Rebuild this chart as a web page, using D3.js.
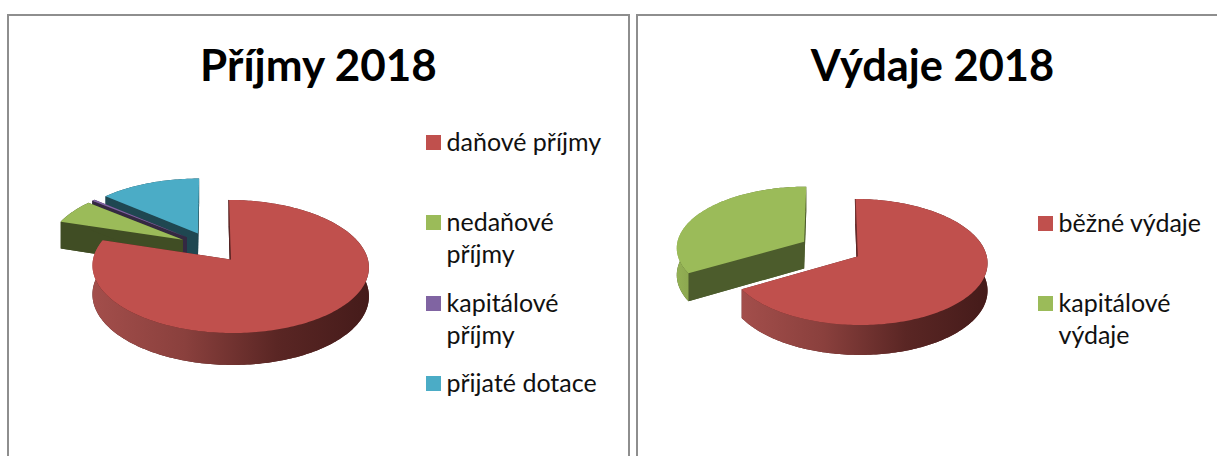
<!DOCTYPE html>
<html>
<head>
<meta charset="utf-8">
<script src="https://d3js.org/d3.v7.min.js"></script>
<style>
  html, body { margin: 0; padding: 0; background: #fff; }
  svg { display: block; }
  text { font-family: Lato, "Open Sans", sans-serif; }
</style>
</head>
<body>
<div id="chart"></div>
<script>
var incomeLabels = [['daňové příjmy'], ['nedaňové', 'příjmy'], ['kapitálové', 'příjmy'], ['přijaté dotace']]
var incomeValues = [79.9, 6.1, 0.4, 13.6]
var incomeColors = ['#C0504D', '#9BBB59', '#8064A2', '#4BACC6']

var expenseLabels = [['běžné výdaje'], ['kapitálové', 'výdaje']]
var expenseValues = [66.6, 33.4]
var expenseColors = ['#C0504D', '#9BBB59']

var W = 1217, H = 456
var svg = d3.select('#chart').append('svg').attr('width', W).attr('height', H)
var defs = svg.append('defs')
var gradId = 0

function panel(x, y, w, h) {
  svg.append('path')
    .attr('d', 'M' + x + ',' + (y + h) + 'V' + y + 'H' + (x + w) + 'V' + (y + h))
    .attr('fill', 'none').attr('stroke', '#8e8e8e').attr('stroke-width', 2)
}

function title(text, x, size) {
  svg.append('text').attr('x', x).attr('y', 81)
    .attr('text-anchor', 'middle').attr('font-size', size).attr('font-weight', 700)
    .attr('fill', '#000').text(text)
}

// swatches and wrapped labels; rows holds the top of each swatch
function legend(labels, colors, x, rows) {
  labels.forEach(function (lines, i) {
    svg.append('rect').attr('x', x).attr('y', rows[i]).attr('width', 15).attr('height', 15)
      .attr('fill', colors[i])
    lines.forEach(function (line, j) {
      svg.append('text').attr('x', x + 20.5).attr('y', rows[i] + 16 + j * 32)
        .attr('font-size', 25).attr('fill', '#111').text(line)
    })
  })
}

// tilted pie: every slice is moved out in the disc plane, then projected
function pie3d(values, colors, cfg) {
  var arcs = d3.pie().sort(null).value(function (d) { return d })(values)
  var line = d3.line()

  function project(u, v, low) {
    var w = 1 - cfg.k * v
    return [cfg.cx + cfg.rx * u / w, cfg.cy + (cfg.ry * v + (low ? cfg.h : 0)) / w]
  }

  arcs.forEach(function (a) { a.color = colors[a.index] })

  cfg.order.forEach(function (idx) {
    var a = arcs[idx]
    var mid = (a.startAngle + a.endAngle) / 2
    var ox = cfg.explode * Math.sin(mid), oy = -cfg.explode * Math.cos(mid)
    var steps = Math.max(2, Math.ceil((a.endAngle - a.startAngle) / 0.02))
    var angles = d3.range(steps + 1).map(function (i) {
      return a.startAngle + (a.endAngle - a.startAngle) * i / steps
    })
    var rim = function (low) {
      return angles.map(function (t) { return project(ox + Math.sin(t), oy - Math.cos(t), low) })
    }
    var apex = project(ox, oy, false), apexLow = project(ox, oy, true)
    var top = rim(false), bottom = rim(true)
    var base = d3.color(a.color)
    var dark = base.darker(cfg.wallDark).formatHex()
    var g = svg.append('g')

    // bottom and cut faces first, the top face covers whatever is behind it
    g.append('path').attr('d', line([apexLow].concat(bottom)) + 'Z').attr('fill', dark)
    g.append('path').attr('d', line([apex, top[0], bottom[0], apexLow]) + 'Z').attr('fill', dark)
    g.append('path').attr('d', line([apex, top[steps], bottom[steps], apexLow]) + 'Z').attr('fill', dark)

    var xs = top.map(function (p) { return p[0] })
    var id = 'wall' + (gradId++)
    var grad = defs.append('linearGradient').attr('id', id).attr('gradientUnits', 'userSpaceOnUse')
      .attr('x1', d3.min(xs)).attr('x2', d3.max(xs)).attr('y1', 0).attr('y2', 0)
    var stops = cfg.wall[idx] || [dark, dark]
    stops.forEach(function (c, i) {
      grad.append('stop').attr('offset', i / (stops.length - 1)).attr('stop-color', c)
    })
    g.append('path').attr('d', line(top.concat(bottom.slice().reverse())) + 'Z').attr('fill', 'url(#' + id + ')')

    g.append('path').attr('d', line([apex].concat(top)) + 'Z').attr('fill', a.color)
    // thin dark sliver of the cut face along the slice start
    if (idx === 0) {
      g.append('path').attr('d', line([apex, top[0]])).attr('fill', 'none')
        .attr('stroke', dark).attr('stroke-width', 0.8)
    }
  })
}

panel(8, 15, 621, H)
panel(637, 15, 600, H)
title('Příjmy 2018', 318.5, 44)
title('Výdaje 2018', 932.5, 43.4)

pie3d(incomeValues, incomeColors, {
  cx: 211, cy: 247, rx: 134.7, ry: 63.2, k: 0.103, h: 28, explode: 0.24,
  order: [3, 2, 1, 0], wallDark: 2.5,
  wall: { 0: ['#a34e4b', '#8a403d', '#5a2624', '#451b1a'] }
})
pie3d(expenseValues, expenseColors, {
  cx: 830.5, cy: 249, rx: 128, ry: 61.2, k: 0.088, h: 27, explode: 0.24,
  order: [1, 0], wallDark: 2,
  wall: { 0: ['#a34e4b', '#8a403d', '#5a2624', '#451b1a'], 1: ['#93b054', '#4a5729'] }
})

legend(incomeLabels, incomeColors, 426, [135, 215, 296, 376])
legend(expenseLabels, expenseColors, 1038, [216, 296])
</script>
</body>
</html>
